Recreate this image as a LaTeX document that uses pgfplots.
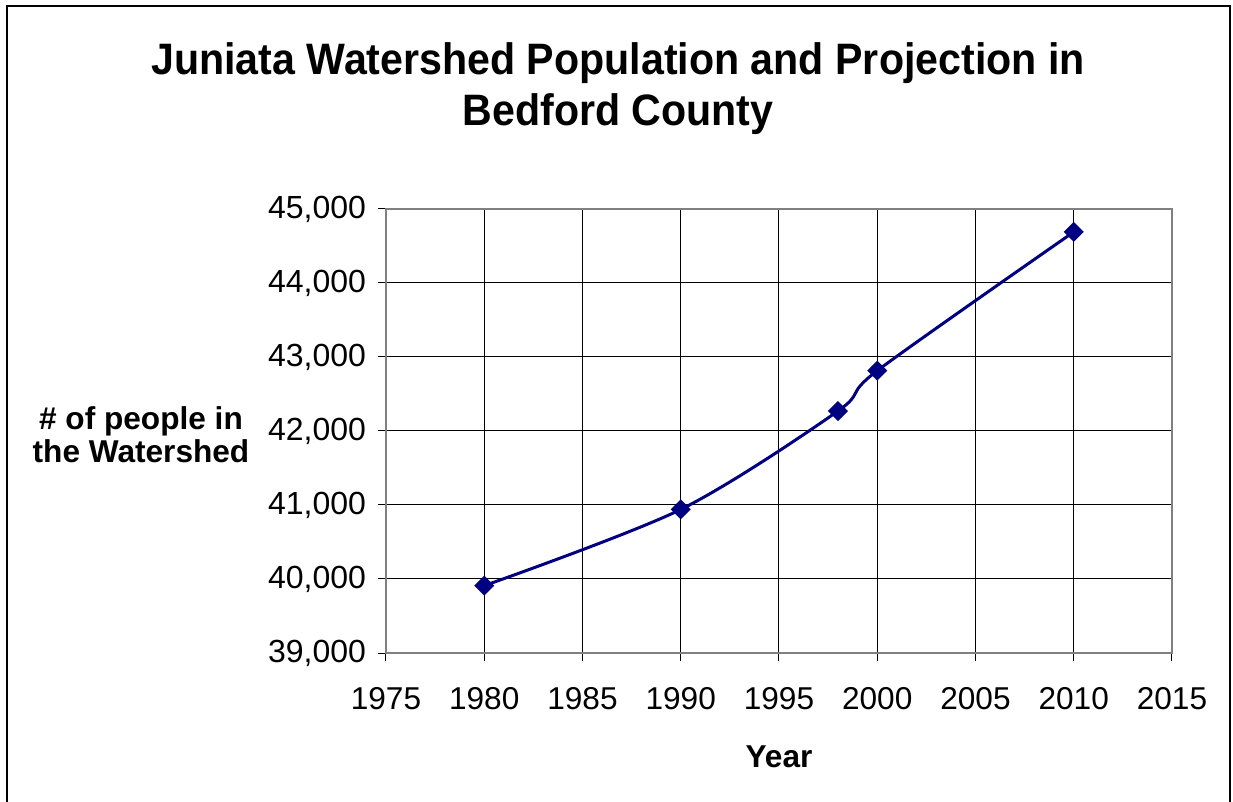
\documentclass[border=0pt]{standalone}
\usepackage{fontspec}
\setmainfont{Liberation Sans}
\newfontfamily\titlefont{Liberation Sans}[FakeStretch=0.935]
\usepackage{pgfplots}
\pgfplotsset{compat=1.18}
\definecolor{navyline}{RGB}{0,0,128}
\begin{document}
\begin{tikzpicture}
\useasboundingbox (-193bp,-74.5bp) rectangle (423.5bp,326.5bp);
\draw[line width=1bp, black] (-189.5bp,-80bp) rectangle (422bp,323.5bp);
\begin{axis}[
  at={(0,0)}, anchor=south west,
  scale only axis, width=393bp, height=222bp,
  xmin=1975, xmax=2015, ymin=39000, ymax=45000,
  xtick distance=5, ytick distance=1000,
  grid=major, major grid style={black, line width=0.5bp},
  axis line style={gray, line width=0.8bp},
  tick align=outside, tick pos=left, major tick length=4bp,
  tick style={black, line width=0.5bp},
  scaled ticks=false,
  /pgf/number format/assume math mode=true,
  xticklabel style={/pgf/number format/1000 sep=, font=\fontsize{15.8bp}{18bp}\selectfont, yshift=-9.5bp},
  yticklabel style={/pgf/number format/1000 sep={,}, font=\fontsize{16bp}{18bp}\selectfont, xshift=-2.5bp},
]
\addplot[color=navyline, line width=1.5bp, smooth, mark=square*, mark size=2.8bp, mark options={rotate=45, solid}] coordinates {
(1980,39910) (1990,40940) (1998,42270) (2000,42815) (2010,44690)
};
\end{axis}
\node[align=center, font=\titlefont\bfseries\fontsize{22bp}{25.5bp}\selectfont] at (116bp,282bp) {Juniata Watershed Population and Projection in\\Bedford County};
\node[align=center, font=\bfseries\fontsize{15.8bp}{16.5bp}\selectfont] at (-122.5bp,109bp) {\# of people in\\the Watershed};
\node[font=\bfseries\fontsize{15.8bp}{16.5bp}\selectfont] at (196.5bp,-52bp) {Year};
\end{tikzpicture}
\end{document}
